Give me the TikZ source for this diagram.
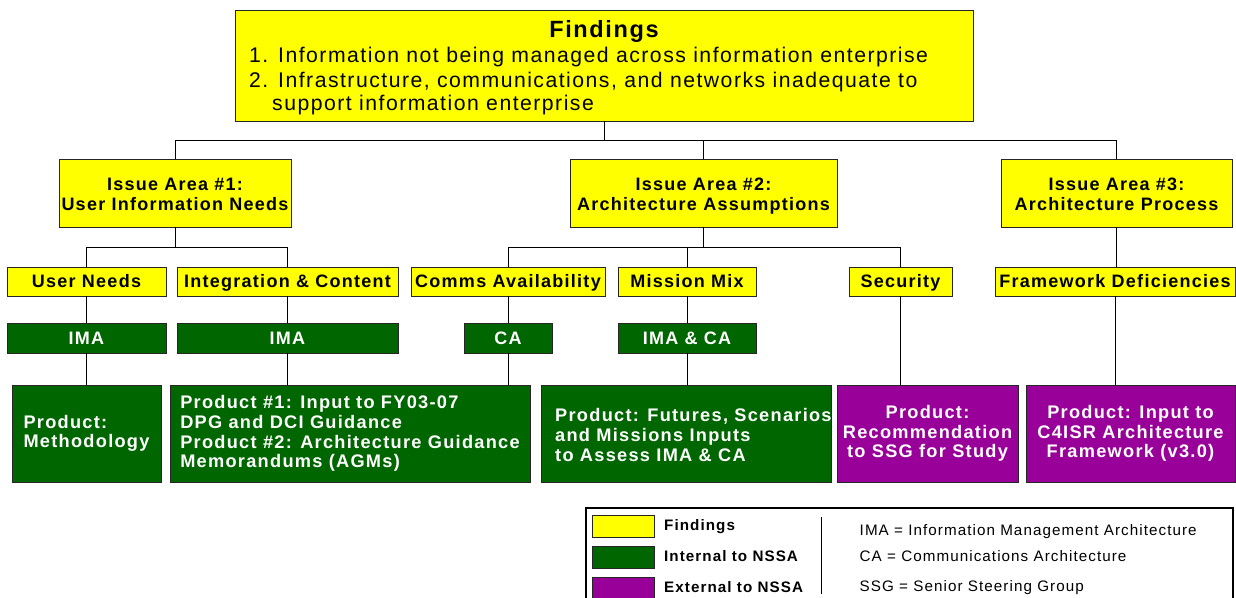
\documentclass[tikz,border=0pt]{standalone}
\usepackage{fontspec}
\setmainfont{Liberation Sans}[LetterSpace=7]
\definecolor{fyellow}{RGB}{255,255,0}
\definecolor{fgreen}{RGB}{0,102,0}
\definecolor{fpurple}{RGB}{153,0,153}
\tikzset{
  box/.style={draw=black!85, line width=1pt, inner sep=0pt, outer sep=0pt},
  yel/.style={box, fill=fyellow},
  grn/.style={box, fill=fgreen, text=white},
  pur/.style={box, fill=fpurple, text=white},
  lbl/.style={font=\fontsize{18}{20.5}\selectfont\bfseries, align=center},
  onel/.style={font=\fontsize{18}{20.5}\selectfont\bfseries, text height=12.9pt, text depth=0pt},
  prod/.style={font=\fontsize{18.2}{19.6}\selectfont\bfseries},
  titlefont/.style={font=\fontsize{23.5}{26}\selectfont\bfseries, inner sep=0pt},
  itemfont/.style={font=\fontsize{21.2}{24}\selectfont, inner sep=0pt, anchor=base west},
  conn/.style={draw=black, line width=1pt},
  legbold/.style={font=\fontsize{15.2}{16}\selectfont\bfseries, inner sep=0pt, anchor=base west},
  legtext/.style={font=\fontsize{15.2}{16}\selectfont, inner sep=0pt, anchor=base west},
  swatch/.style={box, line width=0.8pt, minimum width=62pt, minimum height=22pt},
}
\newcommand{\toprule}{\rule{0pt}{19pt}}
\begin{document}
\begin{tikzpicture}[x=1pt,y=-1pt]
\useasboundingbox (0,0) rectangle (1236,597);
\fill[white] (0,0) rectangle (1236,597);

% ---------- findings ----------
\node[yel, minimum width=738pt, minimum height=111pt] (findings) at (604,65.5) {};
\node[titlefont, anchor=base] (ftitle) at (604,37.7) {Findings};
\node[itemfont] (fi1) at (249,62.7) {1. Information not being managed across information enterprise};
\node[itemfont] (fi2) at (249,87.7) {2. Infrastructure, communications, and networks inadequate to};
\node[itemfont] (fi2b) at (272,110.5) {support information enterprise};

% ---------- issue areas ----------
\node[yel, lbl, minimum width=232pt, minimum height=68pt] (iss1) at (175,193) {\toprule Issue Area \#1:\\User Information Needs\vphantom{p}};
\node[yel, lbl, minimum width=267pt, minimum height=68pt] (iss2) at (703.5,193) {\toprule Issue Area \#2:\\Architecture Assumptions};
\node[yel, lbl, minimum width=231pt, minimum height=68pt] (iss3) at (1116.5,193) {\toprule Issue Area \#3:\\Architecture Process\vphantom{p}};

% ---------- sub-issues ----------
\node[yel, onel, minimum width=159pt, minimum height=29pt] (un) at (86.5,281.5) {User Needs};
\node[yel, onel, minimum width=221pt, minimum height=29pt] (ic) at (287.5,281.5) {Integration \& Content};
\node[yel, onel, minimum width=194pt, minimum height=29pt] (comms) at (508,281.5) {Comms Availability};
\node[yel, onel, minimum width=138pt, minimum height=29pt] (mm) at (687,281.5) {Mission Mix};
\node[yel, onel, minimum width=103pt, minimum height=29pt] (sec) at (900.5,281.5) {Security};
\node[yel, onel, minimum width=240pt, minimum height=29pt] (fw) at (1115,281.5) {Framework Deficiencies};

% ---------- architectures ----------
\node[grn, onel, minimum width=159pt, minimum height=30pt] (ima1) at (86.5,338) {IMA};
\node[grn, onel, minimum width=221pt, minimum height=30pt] (ima2) at (287.5,338) {IMA};
\node[grn, onel, minimum width=88pt, minimum height=30pt] (ca) at (508,338) {CA};
\node[grn, onel, minimum width=138pt, minimum height=30pt] (imaca) at (687,338) {IMA \& CA};

% ---------- products ----------
\node[grn, prod, align=left, minimum width=149pt, minimum height=97pt] (p1) at (86.5,433.5) {Product:\\Methodology};
\node[grn, prod, align=left, minimum width=360pt, minimum height=97pt] (p2) at (350,433.5) {Product \#1: Input to FY03-07\\DPG and DCI Guidance\\Product \#2: Architecture Guidance\\Memorandums (AGMs)};
\node[grn, minimum width=290pt, minimum height=97pt] (p3) at (686,433.5) {};
\node[prod, text=white, align=left, anchor=west, inner sep=0pt] (p3text) at (555,435) {Product: Futures, Scenarios\\and Missions Inputs\\to Assess IMA \& CA};
\node[pur, prod, align=center, minimum width=181pt, minimum height=97pt] (p4) at (927.5,433.5) {Product:\\Recommendation\\to SSG for Study};
\node[pur, prod, align=center, minimum width=209pt, minimum height=97pt] (p5) at (1130.5,433.5) {Product: Input to\\C4ISR Architecture\\Framework (v3.0)};

% ---------- connectors ----------
\coordinate (b0) at (604,140);
\coordinate (b1) at (175,247);
\coordinate (b2) at (703.5,247);
\draw[conn] (findings.south) -- (b0);
\draw[conn] (iss1.north) |- (b0);
\draw[conn] (iss2.north) |- (b0);
\draw[conn] (iss3.north) |- (b0);
\draw[conn] (iss1.south) -- (b1);
\draw[conn] (un.north) |- (b1);
\draw[conn] (ic.north) |- (b1);
\draw[conn] (iss2.south) -- (b2);
\draw[conn] (comms.north) |- (b2);
\draw[conn] (mm.north) |- (b2);
\draw[conn] (sec.north) |- (b2);
\draw[conn] (iss3.south) -- (iss3.south |- fw.north);
\draw[conn] (un) -- (ima1);
\draw[conn] (ic) -- (ima2);
\draw[conn] (comms) -- (ca);
\draw[conn] (mm) -- (imaca);
\draw[conn] (ima1.south) -- (ima1.south |- p1.north);
\draw[conn] (ima2.south) -- (ima2.south |- p2.north);
\draw[conn] (ca.south) -- (ca.south |- p2.north);
\draw[conn] (imaca.south) -- (imaca.south |- p3.north);
\draw[conn] (sec.south) -- (sec.south |- p4.north);
\draw[conn] (fw.south) -- (fw.south |- p5.north);

% ---------- legend ----------
\node[draw=black, line width=1.3pt, fill=white, minimum width=647pt, minimum height=122pt, inner sep=0pt] (legend) at (909.5,569) {};
\node[swatch, fill=fyellow] (swy) at (623.5,526) {};
\node[swatch, fill=fgreen] (swg) at (623.5,557) {};
\node[swatch, fill=fpurple] (swp) at (623.5,588) {};
\node[legbold] (ly) at (664,530.5) {Findings};
\node[legbold] (lg) at (664,561) {Internal to NSSA};
\node[legbold] (lp) at (664,592) {External to NSSA};
\coordinate (dv1) at (821,517);
\coordinate (dv2) at (821,594);
\draw[line width=1pt] (dv1) -- (dv2);
\node[legtext] (a1) at (859.5,535.5) {IMA = Information Management Architecture};
\node[legtext] (a2) at (859.5,561.5) {CA = Communications Architecture};
\node[legtext] (a3) at (859.5,591.5) {SSG = Senior Steering Group};
\end{tikzpicture}
\end{document}
